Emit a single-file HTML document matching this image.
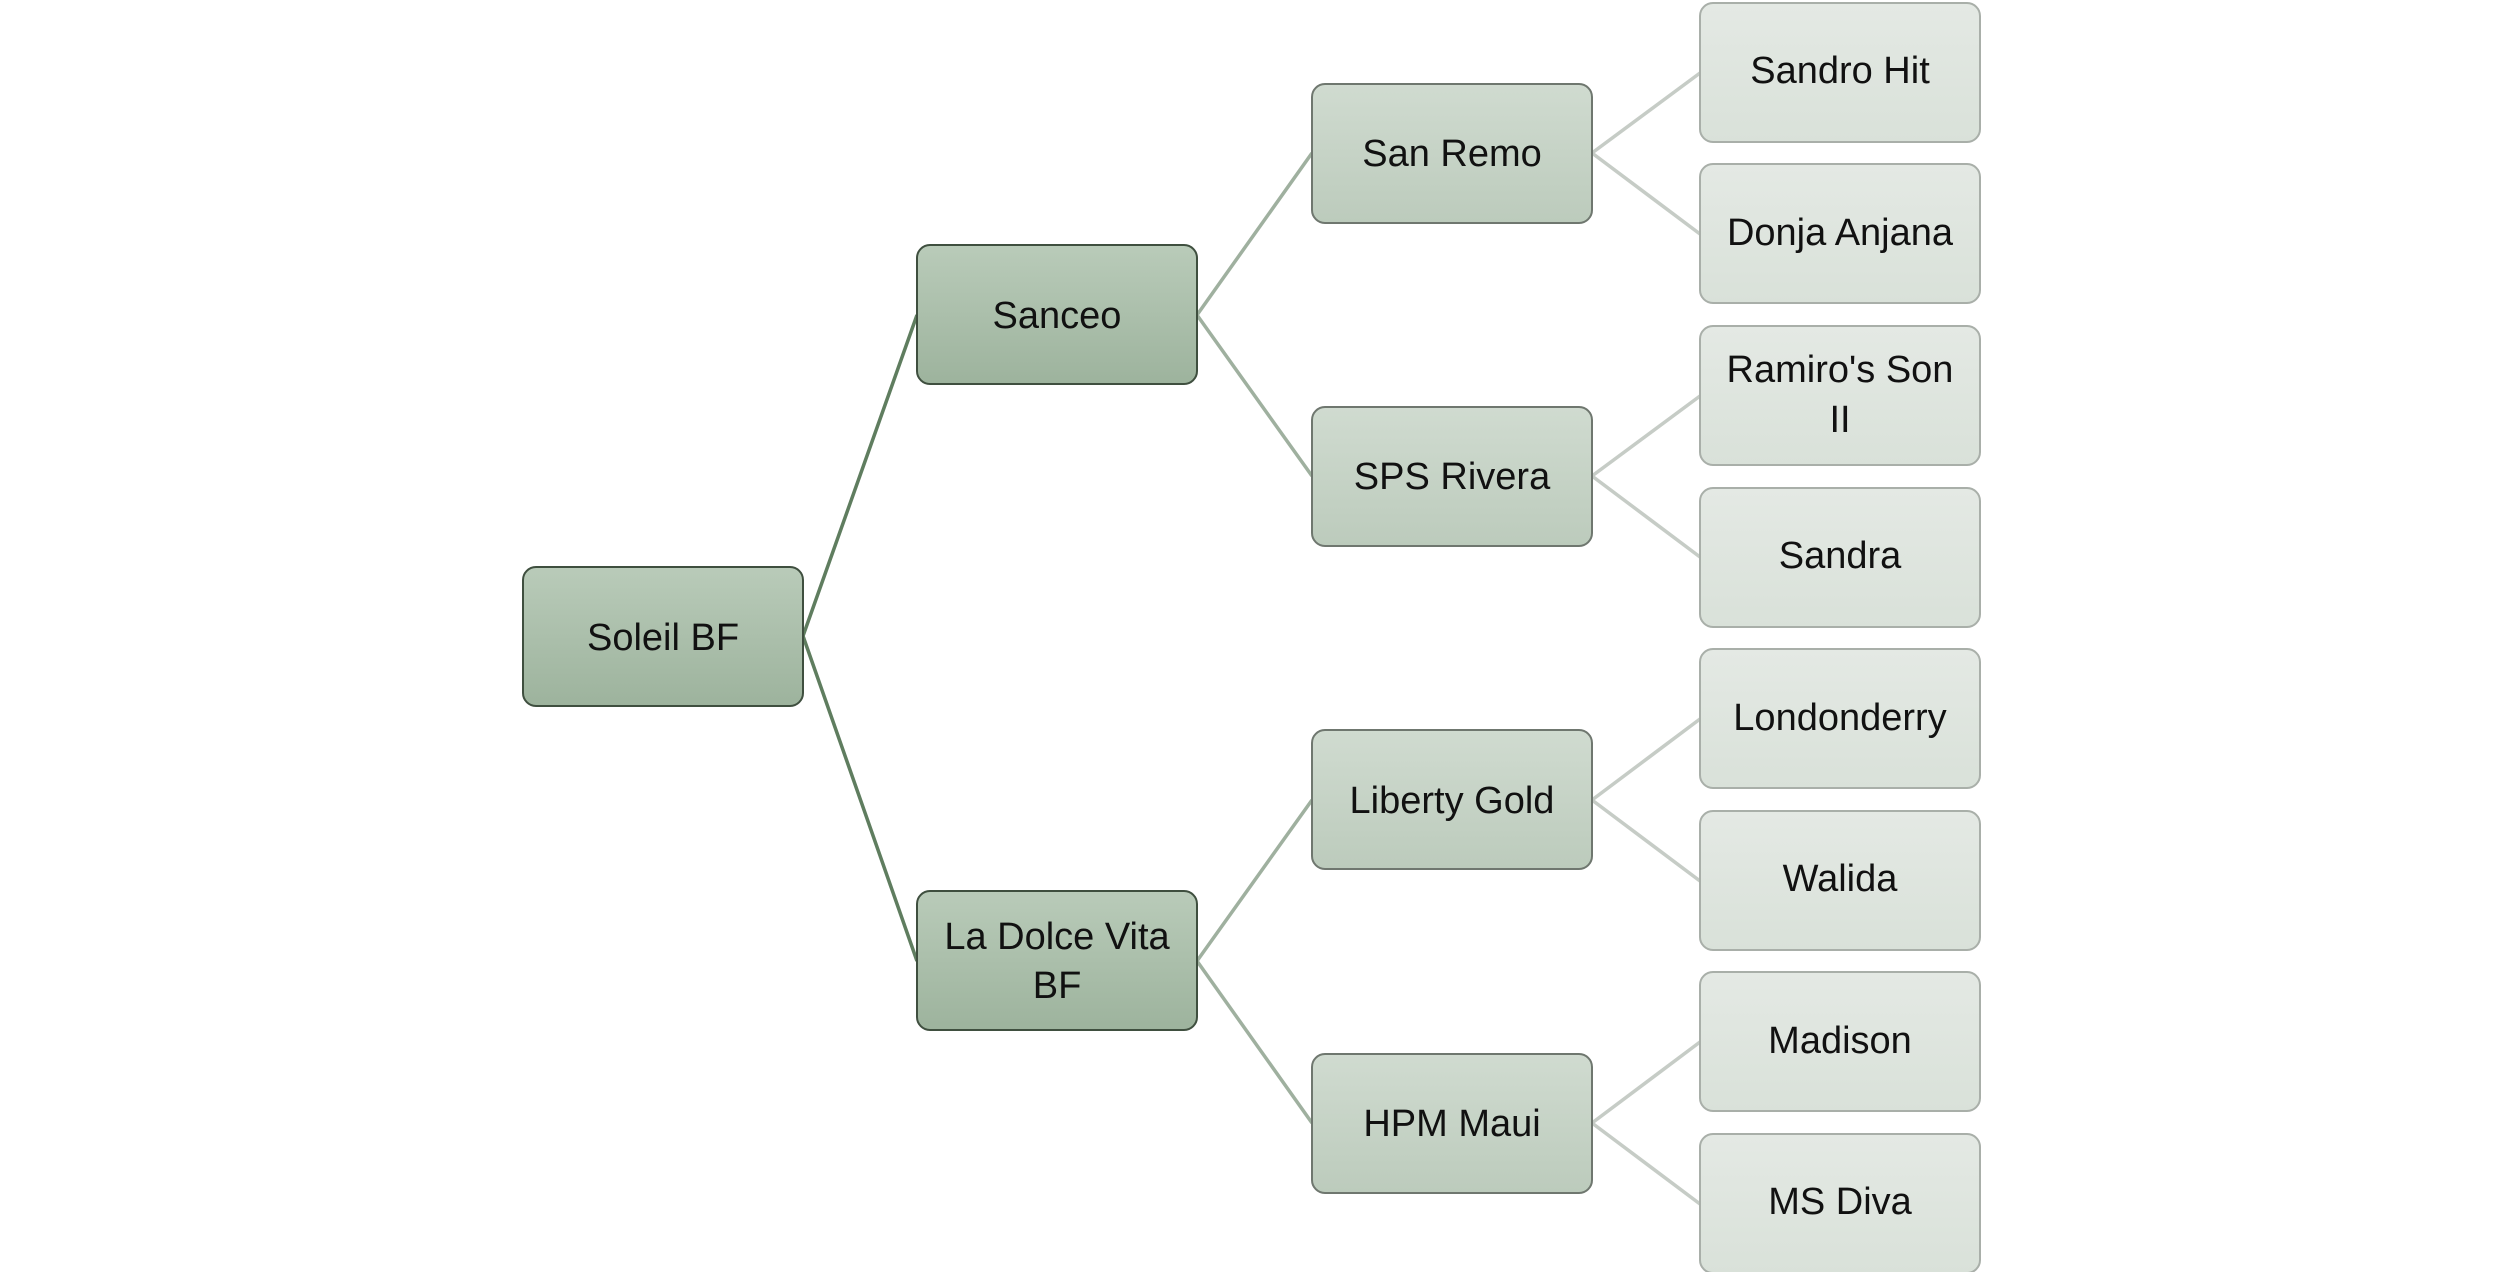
<!DOCTYPE html>
<html><head><meta charset="utf-8"><style>
html,body{margin:0;padding:0;background:#fff;width:2500px;height:1272px;overflow:hidden}
text{font-family:"Liberation Sans",sans-serif;font-size:38px;fill:#111;text-anchor:middle}
</style></head><body>
<svg width="2500" height="1272" viewBox="0 0 2500 1272" xmlns="http://www.w3.org/2000/svg">
<defs>
<linearGradient id="g1" x1="0" y1="0" x2="0" y2="1"><stop offset="0" stop-color="#b9cbb9"/><stop offset="1" stop-color="#9db39d"/></linearGradient>
<linearGradient id="g2" x1="0" y1="0" x2="0" y2="1"><stop offset="0" stop-color="#d0dbd0"/><stop offset="1" stop-color="#bccbbc"/></linearGradient>
<linearGradient id="g3" x1="0" y1="0" x2="0" y2="1"><stop offset="0" stop-color="#e4e9e4"/><stop offset="1" stop-color="#d9e1d9"/></linearGradient>
</defs>
<g stroke="#5f7d5f" stroke-width="3.5">
<line x1="803" y1="636" x2="917" y2="315"/>
<line x1="803" y1="636" x2="917" y2="961"/>
</g>
<g stroke="#9fb09f" stroke-width="3.5">
<line x1="1197" y1="315" x2="1312" y2="153"/>
<line x1="1197" y1="315" x2="1312" y2="476"/>
<line x1="1197" y1="961" x2="1312" y2="800"/>
<line x1="1197" y1="961" x2="1312" y2="1123"/>
</g>
<g stroke="#c6ccc6" stroke-width="3.5">
<line x1="1592" y1="153" x2="1700" y2="73"/>
<line x1="1592" y1="153" x2="1700" y2="234"/>
<line x1="1592" y1="476" x2="1700" y2="396"/>
<line x1="1592" y1="476" x2="1700" y2="557"/>
<line x1="1592" y1="800" x2="1700" y2="719"/>
<line x1="1592" y1="800" x2="1700" y2="881"/>
<line x1="1592" y1="1123" x2="1700" y2="1042"/>
<line x1="1592" y1="1123" x2="1700" y2="1204"/>
</g>
<g stroke="#3f4f3f" stroke-width="2" fill="url(#g1)">
<rect x="523" y="567" width="280" height="139" rx="13"/>
<rect x="917" y="245" width="280" height="139" rx="13"/>
<rect x="917" y="891" width="280" height="139" rx="13"/>
</g>
<g stroke="#6f776f" stroke-width="2" fill="url(#g2)">
<rect x="1312" y="84" width="280" height="139" rx="13"/>
<rect x="1312" y="407" width="280" height="139" rx="13"/>
<rect x="1312" y="730" width="280" height="139" rx="13"/>
<rect x="1312" y="1054" width="280" height="139" rx="13"/>
</g>
<g stroke="#a9afa9" stroke-width="2" fill="url(#g3)">
<rect x="1700" y="3" width="280" height="139" rx="13"/>
<rect x="1700" y="164" width="280" height="139" rx="13"/>
<rect x="1700" y="326" width="280" height="139" rx="13"/>
<rect x="1700" y="488" width="280" height="139" rx="13"/>
<rect x="1700" y="649" width="280" height="139" rx="13"/>
<rect x="1700" y="811" width="280" height="139" rx="13"/>
<rect x="1700" y="972" width="280" height="139" rx="13"/>
<rect x="1700" y="1134" width="280" height="139" rx="13"/>
</g>
<text x="663" y="650">Soleil BF</text>
<text x="1057" y="328">Sanceo</text>
<text x="1057" y="949">La Dolce Vita</text>
<text x="1057" y="998">BF</text>
<text x="1452" y="166">San Remo</text>
<text x="1452" y="489">SPS Rivera</text>
<text x="1452" y="813">Liberty Gold</text>
<text x="1452" y="1136">HPM Maui</text>
<text x="1840" y="83">Sandro Hit</text>
<text x="1840" y="245">Donja Anjana</text>
<text x="1840" y="382">Ramiro's Son</text>
<text x="1840" y="432">II</text>
<text x="1840" y="568">Sandra</text>
<text x="1840" y="730">Londonderry</text>
<text x="1840" y="891">Walida</text>
<text x="1840" y="1053">Madison</text>
<text x="1840" y="1214">MS Diva</text>
</svg>
</body></html>
